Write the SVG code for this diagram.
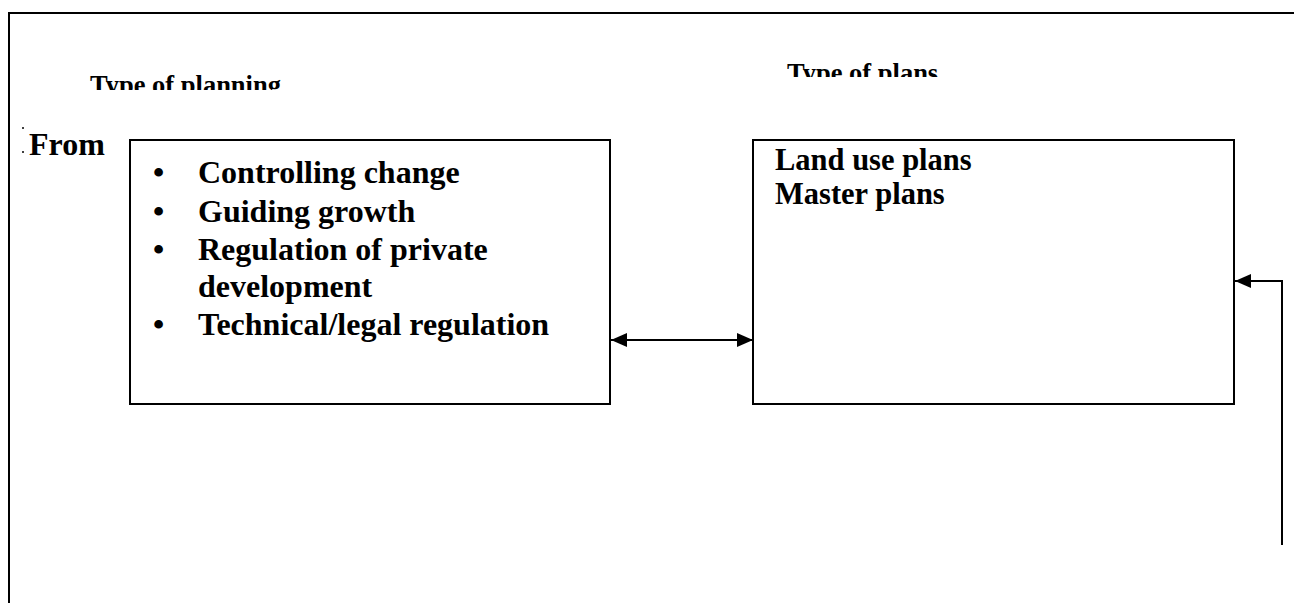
<svg xmlns="http://www.w3.org/2000/svg" width="1295" height="603" viewBox="0 0 1295 603">
<style>
.t{font-family:"Liberation Serif","Times New Roman",serif;font-weight:bold;fill:#000}
.b{font-size:32px}
.r{font-size:30.5px}
.h{font-size:26.5px}
.box{fill:#fff;stroke:#000;stroke-width:2}
.ln{fill:none;stroke:#000;stroke-width:2}
</style>
<defs>
<marker id="ah" viewBox="0 0 16 14" refX="16" refY="7" markerWidth="16" markerHeight="14" markerUnits="userSpaceOnUse" orient="auto-start-reverse">
<path d="M0,0 L16,7 L0,14 Z" fill="#000"/>
</marker>
<clipPath id="c1"><rect x="0" y="0" width="600" height="90"/></clipPath>
<clipPath id="c2"><rect x="600" y="0" width="600" height="77"/></clipPath>
</defs>
<rect width="1295" height="603" fill="#fff"/>
<g id="frame">
<path class="ln" d="M9,603 V13 H1294"/>
</g>
<g id="heading-planning"><text class="t h" x="90" y="93.5" clip-path="url(#c1)">Type of planning</text></g>
<g id="heading-plans"><text class="t h" x="787" y="81.5" clip-path="url(#c2)">Type of plans</text></g>
<g id="from-label">
<circle cx="23" cy="128" r="1" fill="#000"/>
<circle cx="23" cy="152" r="1" fill="#000"/>
<text class="t b" x="29" y="155">From</text>
</g>
<g id="planning-box">
<rect class="box" x="130" y="140" width="480" height="264"/>
<text class="t b" x="153" y="183">•</text>
<text class="t b" x="198" y="183">Controlling change</text>
<text class="t b" x="153" y="222">•</text>
<text class="t b" x="198" y="222">Guiding growth</text>
<text class="t b" x="153" y="260">•</text>
<text class="t b" x="198" y="260">Regulation of private</text>
<text class="t b" x="198" y="297">development</text>
<text class="t b" x="153" y="335">•</text>
<text class="t b" x="198" y="335">Technical/legal regulation</text>
</g>
<g id="plans-box">
<rect class="box" x="753" y="140" width="481" height="264"/>
<text class="t r" x="775" y="170">Land use plans</text>
<text class="t r" x="775" y="204">Master plans</text>
</g>
<g id="connectors">
<path class="ln" d="M611,340 H753" marker-start="url(#ah)" marker-end="url(#ah)"/>
<path class="ln" d="M1282,545 V281 H1235" marker-end="url(#ah)"/>
</g>
</svg>
